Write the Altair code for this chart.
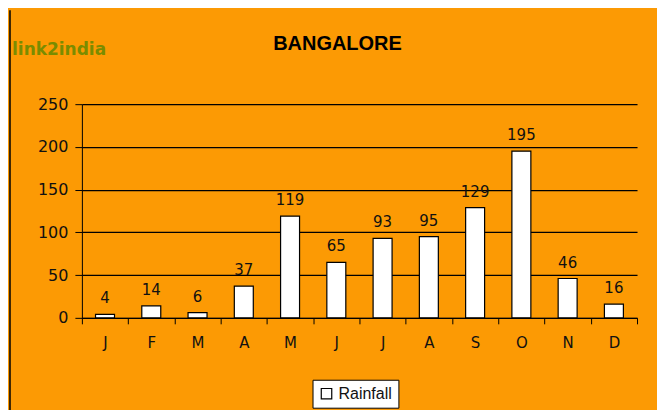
import altair as alt
import pandas as pd

months = ["J", "F", "M", "A", "M", "J", "J", "A", "S", "O", "N", "D"]
rainfall = [4, 14, 6, 37, 119, 65, 93, 95, 129, 195, 46, 16]
series_name = "Rainfall"
title_text = "BANGALORE"
brand_text = "link2india"

df = pd.DataFrame({
    "idx": list(range(len(months))),
    "month": months,
    "value": rainfall,
    "series": [series_name] * len(months),
})

label_expr = "[" + ",".join(f"'{m}'" for m in months) + "][datum.value]"
FONT = "Liberation Sans"
WFONT = "DejaVu Sans"
ORANGE = "#FC9A04"

x_enc = alt.X(
    "idx:O",
    scale=alt.Scale(paddingInner=0, paddingOuter=0),
    axis=alt.Axis(
        title=None, labelExpr=label_expr, labelAngle=0, tickBand="extent",
        domainColor="black", tickColor="black", tickSize=6, labelPadding=12,
        labelFontSize=15, labelColor="#111", labelFont=WFONT, grid=False,
    ),
)
y_enc = alt.Y(
    "value:Q",
    scale=alt.Scale(domain=[0, 250], nice=False),
    axis=alt.Axis(
        title=None, values=[0, 50, 100, 150, 200, 250], grid=True,
        gridColor="black", gridWidth=1.2, gridOpacity=1, domainColor="black",
        tickColor="black", tickSize=7, labelPadding=7, labelFontSize=16,
        labelColor="#111", labelFont=WFONT,
    ),
)

bars = alt.Chart(df).mark_bar(size=19, stroke="black", strokeWidth=1.2).encode(
    x=x_enc,
    y=y_enc,
    color=alt.Color(
        "series:N",
        scale=alt.Scale(domain=[series_name], range=["white"]),
        legend=alt.Legend(
            title=None, orient="none", legendX=231, legendY=276,
            fillColor="white", strokeColor="black", padding=6,
            symbolType="square", symbolSize=110, symbolStrokeColor="black",
            symbolStrokeWidth=1.2, symbolFillColor="white",
            labelFontSize=16, labelFont=FONT, labelColor="#111",
            labelLimit=200,
        ),
    ),
)

labels = alt.Chart(df).mark_text(
    baseline="bottom", dy=-8, fontSize=15, font=WFONT, color="#111"
).encode(x="idx:O", y="value:Q", text="value:Q")

title_df = pd.DataFrame({"t": [title_text]})
title = alt.Chart(title_df).mark_text(
    fontSize=20, fontWeight="bold", font=FONT, color="black", align="center", baseline="middle"
).encode(x=alt.value(256), y=alt.value(-60), text="t:N")

brand_df = pd.DataFrame({"t": [brand_text]})
brand = alt.Chart(brand_df).mark_text(
    fontSize=17, fontWeight="bold", font=WFONT, color="#7A8C00", align="left", baseline="middle"
).encode(x=alt.value(-70), y=alt.value(-54), text="t:N")

border = alt.Chart(title_df).mark_rule(color="black", strokeWidth=1.5).encode(
    x=alt.value(-72), y=alt.value(-94), y2=alt.value(310)
)

chart = alt.layer(bars, labels, title, brand, border).properties(
    width=556, height=214,
    autosize=alt.AutoSizeParams(type="none"),
    padding={"left": 74, "top": 96, "right": 20, "bottom": 92},
    background=ORANGE,
).configure_view(stroke=None)

chart.save("out.html", embed_options={"renderer": "svg", "actions": False})
